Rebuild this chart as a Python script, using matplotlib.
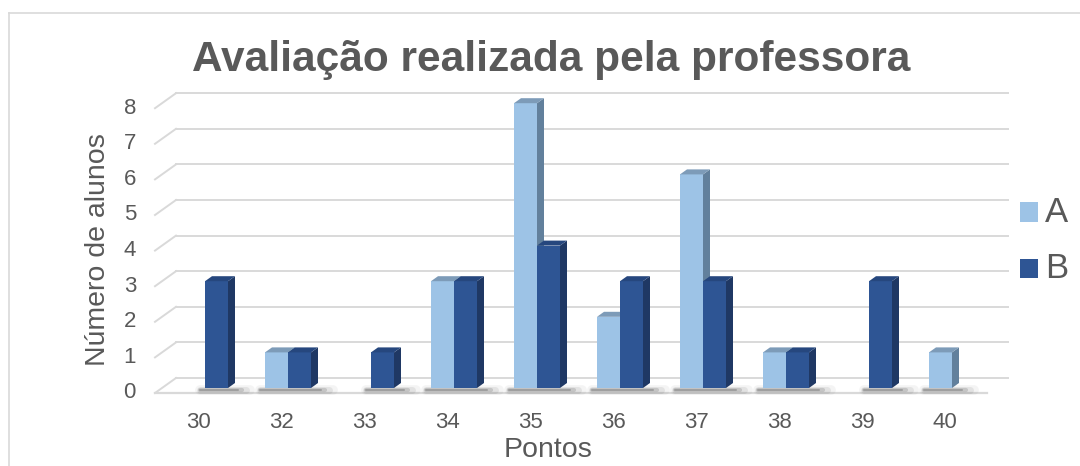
import numpy as np
import matplotlib
matplotlib.use('Agg')
import matplotlib.pyplot as plt
from matplotlib.patches import Polygon, Rectangle
from matplotlib.lines import Line2D

# data
pontos = ['30', '32', '33', '34', '35', '36', '37', '38', '39', '40']
turma_a = [0, 1, 0, 3, 8, 2, 6, 1, 0, 1]
turma_b = [3, 1, 1, 3, 4, 3, 3, 1, 3, 0]
y_ticks = list(range(0, 9))

W, H = 1080, 466
PX_X = 83.0    # pixels per category
PX_Y = 35.6    # pixels per unit on y
X0_PX = 198    # pixel of first category (front plane)
Y0_PX = 393    # pixel (from top) of value 0 (front plane)

TXT = '#595959'
GRID = '#d9d9d9'
plt.rcParams['font.family'] = ['Liberation Sans', 'DejaVu Sans']

fig = plt.figure(figsize=(W / 100, H / 100), dpi=100)
ax = fig.add_axes([0, 0, 1, 1])
ax.set_xlim(-X0_PX / PX_X, (W - X0_PX) / PX_X)
ax.set_ylim(-(H - Y0_PX) / PX_Y, Y0_PX / PX_Y)
ax.axis('off')

# fake 3d depth vector (front of floor -> back wall)
dx, dy = 21 / PX_X, 15 / PX_Y
w = 23 / PX_X
x_left = (155 - X0_PX) / PX_X
x_floor = (987 - X0_PX) / PX_X
x_right = (1008 - X0_PX) / PX_X

# gridlines: diagonal on the side wall + horizontal on the back wall
for v in y_ticks:
    ax.plot([x_left, x_left + dx], [v, v + dy], color=GRID, lw=1.4, zorder=1)
    ax.plot([x_left + dx, x_right], [v + dy, v + dy], color=GRID, lw=1.4, zorder=1)
    ax.text((136 - X0_PX) / PX_X, v, str(v), ha='right', va='center',
            fontsize=16, color=TXT)
ax.plot([x_left, x_floor], [0, 0], color=GRID, lw=1.6, zorder=1)

x = np.arange(len(pontos))

# soft shadow on the floor, just under the bar bases
for i in x:
    if turma_a[i] == 0 and turma_b[i] == 0:
        continue
    l = i - w if turma_a[i] > 0 else i
    r = i + w if turma_b[i] > 0 else i
    for lw_, al, ext in [(7, 0.05, 0.26), (5, 0.09, 0.22), (3, 0.16, 0.17), (1.5, 0.25, 0.12)]:
        ax.plot([l + dx / 3 - 0.06, r + dx / 3 + ext], [0.08, 0.08],
                color='#303030', lw=lw_, alpha=al, solid_capstyle='round', zorder=2)


def bar3d(xl, h, front, side, top):
    bx, by = xl + dx / 3, dy / 3
    ax.add_patch(Rectangle((bx, by), w, h, facecolor=front, edgecolor='none', zorder=3))
    ax.add_patch(Polygon([(bx + w, by), (bx + w + dx / 3, by + dy / 3),
                          (bx + w + dx / 3, by + h + dy / 3), (bx + w, by + h)],
                         closed=True, facecolor=side, edgecolor='none', zorder=3))
    ax.add_patch(Polygon([(bx, by + h), (bx + w, by + h),
                          (bx + w + dx / 3, by + h + dy / 3), (bx + dx / 3, by + h + dy / 3)],
                         closed=True, facecolor=top, edgecolor='none', zorder=3))


for i in x:
    if turma_a[i] > 0:
        bar3d(i - w, turma_a[i], '#9dc3e6', '#62809c', '#7d9bb8')
    if turma_b[i] > 0:
        bar3d(i, turma_b[i], '#2e5594', '#1f3864', '#26477e')
    ax.text(i, (Y0_PX - 423) / PX_Y, pontos[i], ha='center', va='center',
            fontsize=16, color=TXT)

# titles
fig.text(551 / W, 1 - 60 / H, 'Avaliação realizada pela professora', ha='center',
         va='center', fontsize=30.5, fontweight='bold', color=TXT)
fig.text(548 / W, 1 - 450 / H, 'Pontos', ha='center', va='center', fontsize=20.5, color=TXT)
fig.text(98 / W, 1 - 250 / H, 'Número de alunos', ha='center', va='center',
         rotation=90, fontsize=20.5, color=TXT)

# legend
for lab, col, yc in [('A', '#9dc3e6', 212), ('B', '#2e5594', 268)]:
    fig.add_artist(Rectangle((1020 / W, 1 - (yc + 9.5) / H), 18 / W, 19 / H,
                             transform=fig.transFigure, facecolor=col, edgecolor='none'))
    fig.text(1045 / W, 1 - yc / H, lab, ha='left', va='center', fontsize=25, color=TXT)

# chart frame
fig.add_artist(Line2D([9 / W, 9 / W], [0, 1 - 13 / H], transform=fig.transFigure,
                      color=GRID, lw=1.2))
fig.add_artist(Line2D([9 / W, 1], [1 - 13 / H, 1 - 13 / H], transform=fig.transFigure,
                      color=GRID, lw=1.2))

fig.savefig('out.png', dpi=100, facecolor='white')
